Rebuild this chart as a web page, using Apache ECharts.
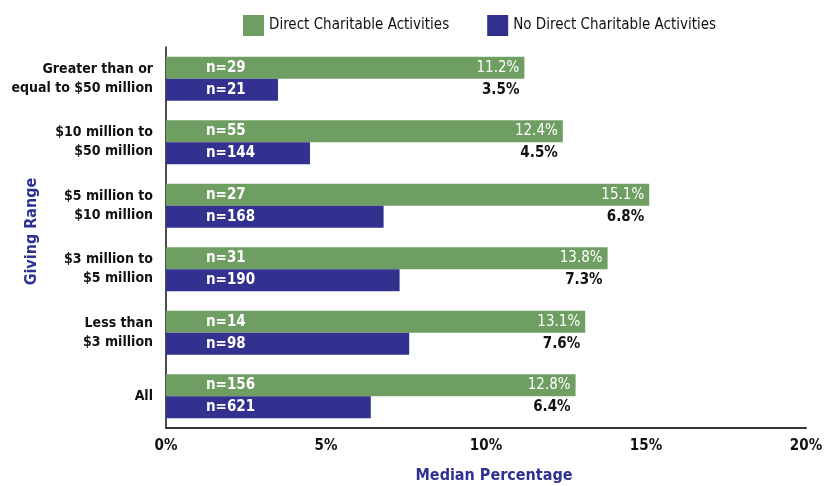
<!DOCTYPE html>
<html>
<head>
<meta charset="utf-8">
<script src="https://cdn.jsdelivr.net/npm/echarts@6/dist/echarts.min.js"></script>
<style>
  html, body { margin: 0; padding: 0; background: #fff; }
  #chart { width: 830px; height: 486px; }
</style>
</head>
<body>
<div id="chart"></div>
<script>
// giving ranges, top to bottom
const categories = [
  'Greater than or\nequal to $50 million',
  '$10 million to\n$50 million',
  '$5 million to\n$10 million',
  '$3 million to\n$5 million',
  'Less than\n$3 million',
  'All'
];
const directValues = [11.2, 12.4, 15.1, 13.8, 13.1, 12.8];
const noDirectValues = [3.5, 4.5, 6.8, 7.3, 7.6, 6.4];
const directCounts = [29, 55, 27, 31, 14, 156];
const noDirectCounts = [21, 144, 168, 190, 98, 621];
const xTicks = [0, 5, 10, 15, 20];

const FONT = "'Liberation Sans Narrow', 'DejaVu Sans Condensed', sans-serif";
const GREEN = '#6f9e63';
const BLUE = '#33318f';
const NAVY = '#2e3192';

const chart = echarts.init(document.getElementById('chart'));

chart.setOption({
  animation: false,
  textStyle: { fontFamily: FONT },
  legend: {
    data: ['Direct Charitable Activities', 'No Direct Charitable Activities'],
    left: 238,
    top: 10,
    icon: 'rect',
    itemWidth: 21,
    itemHeight: 21,
    itemGap: 38,
    textStyle: { fontSize: 15, color: '#111', fontFamily: FONT }
  },
  grid: { left: 166, right: 24, top: 47, bottom: 58, outerBoundsMode: 'none', containLabel: false },
  xAxis: {
    type: 'value',
    min: xTicks[0],
    max: xTicks[xTicks.length - 1],
    interval: 5,
    axisLine: { show: true, lineStyle: { color: '#333', width: 2 } },
    axisTick: { show: false },
    splitLine: { show: false },
    axisLabel: {
      formatter: '{value}%',
      margin: 11,
      fontSize: 15,
      fontWeight: 'bold',
      color: '#111',
      fontFamily: FONT
    },
    name: 'Median Percentage',
    nameLocation: 'middle',
    nameGap: 40,
    nameMoveOverlap: false,
    nameTextStyle: { fontSize: 16, fontWeight: 'bold', color: NAVY, fontFamily: FONT, padding: [0, 0, 0, 16] }
  },
  yAxis: [
    {
      type: 'category',
      data: categories,
      inverse: true,
      axisLine: { show: true, lineStyle: { color: '#111', width: 1.5 } },
      axisTick: { show: false },
      axisLabel: {
        margin: 13,
        fontSize: 14,
        fontWeight: 'bold',
        color: '#111',
        lineHeight: 19,
        align: 'right',
        fontFamily: FONT
      },
      name: 'Giving Range',
      nameLocation: 'middle',
      nameRotate: 90,
      nameGap: 126,
      nameMoveOverlap: false,
      nameTextStyle: { fontSize: 16, fontWeight: 'bold', color: NAVY, fontFamily: FONT, padding: [0, 0, 0, 12] }
    },
    {
      // hidden copy used for the value labels
      type: 'category',
      data: categories,
      inverse: true,
      show: false
    }
  ],
  series: [
    {
      name: 'Direct Charitable Activities',
      type: 'bar',
      data: directValues,
      barWidth: 22,
      barGap: '0%',
      itemStyle: { color: GREEN },
      label: {
        show: true,
        position: 'insideLeft',
        distance: 40,
        formatter: p => 'n=' + directCounts[p.dataIndex],
        color: '#fff',
        fontSize: 15,
        fontWeight: 'bold',
        fontFamily: FONT
      }
    },
    {
      name: 'No Direct Charitable Activities',
      type: 'bar',
      data: noDirectValues,
      barWidth: 22,
      barGap: '0%',
      itemStyle: { color: BLUE },
      label: {
        show: true,
        position: 'insideLeft',
        distance: 40,
        formatter: p => 'n=' + noDirectCounts[p.dataIndex],
        color: '#fff',
        fontSize: 15,
        fontWeight: 'bold',
        fontFamily: FONT
      }
    },
    {
      name: 'values',
      type: 'bar',
      yAxisIndex: 1,
      data: directValues,
      barWidth: 44,
      silent: true,
      itemStyle: { color: 'rgba(0,0,0,0)' },
      label: {
        show: true,
        position: 'insideRight',
        distance: 5,
        formatter: p => '{w|' + directValues[p.dataIndex].toFixed(1) + '%}\n{b|' +
          noDirectValues[p.dataIndex].toFixed(1) + '%}',
        rich: {
          w: { color: '#fff', fontSize: 15, lineHeight: 22, fontFamily: FONT, align: 'right' },
          b: { color: '#111', fontSize: 15, lineHeight: 22, fontWeight: 'bold', fontFamily: FONT, align: 'right' }
        }
      }
    }
  ]
});
</script>
</body>
</html>
